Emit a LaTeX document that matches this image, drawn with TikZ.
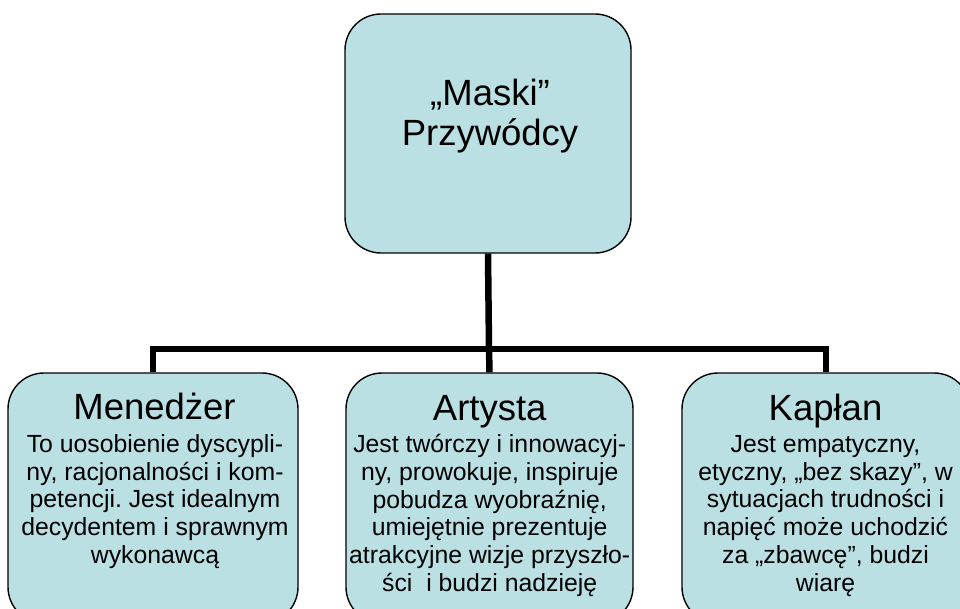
\documentclass[tikz,border=0pt]{standalone}
\usepackage{fontspec}
\setmainfont{Liberation Sans}
\frenchspacing
\definecolor{boxfill}{HTML}{BBE0E3}
\begin{document}
\begin{tikzpicture}[x=1pt,y=-1pt,
  mbox/.style={draw=black,line width=1.4pt,fill=boxfill,rounded corners=36pt,inner sep=0pt},
  conn/.style={line width=6.5pt,line join=miter},
  ttl/.style={font=\fontsize{36.5}{40}\selectfont,anchor=base,inner sep=0pt},
  toptxt/.style={font=\fontsize{36.5}{40}\selectfont,align=center,anchor=north,inner sep=0pt},
  body/.style={font=\fontsize{24.8}{27.8}\selectfont,align=center,anchor=north,inner sep=0pt}]
\clip (0,0) rectangle (960,609);
\fill[white] (0,0) rectangle (960,609);
% boxes
\node[mbox, minimum width=286pt, minimum height=239pt] (top) at (488,133.5) {};
\node[mbox, minimum width=290pt, minimum height=250pt] (left) at (153,498) {};
\node[mbox, minimum width=287pt, minimum height=250pt] (mid) at (489.5,498) {};
\node[mbox, minimum width=288pt, minimum height=250pt] (right) at (826,498) {};
% connectors
\coordinate (j) at (489,349);
\draw[conn] (top.south) -- (j);
\draw[conn] (j) -| (left.north);
\draw[conn] (j) -- (mid.north);
\draw[conn] (j) -| (right.north);
% texts
\node[toptxt] (ttop) at (490,78.5) {\rule{0pt}{26.6pt}„Maski”\\Przywódcy};
\node[ttl] (t1) at (154.5,419.5) {Menedżer};
\node[ttl] (t2) at (489.7,420) {Artysta};
\node[ttl] (t3) at (825.5,420) {Kapłan};
\node[body] (b1) at (155,434) {\rule{0pt}{18pt}To uosobienie dyscypli-\\ny, racjonalności i kom-\\petencji. Jest idealnym\\decydentem i sprawnym\\wykonawcą};
\node[body] (b2) at (489.7,434) {\rule{0pt}{18pt}Jest twórczy i innowacyj-\\ny, prowokuje, inspiruje\\pobudza wyobraźnię,\\umiejętnie prezentuje\\atrakcyjne wizje przyszło-\\ści\ \ i budzi nadzieję};
\node[body] (b3) at (825.5,434) {\rule{0pt}{18pt}Jest empatyczny,\\etyczny, „bez skazy”, w\\sytuacjach trudności i\\napięć może uchodzić\\za „zbawcę”, budzi\\wiarę};
\end{tikzpicture}
\end{document}
